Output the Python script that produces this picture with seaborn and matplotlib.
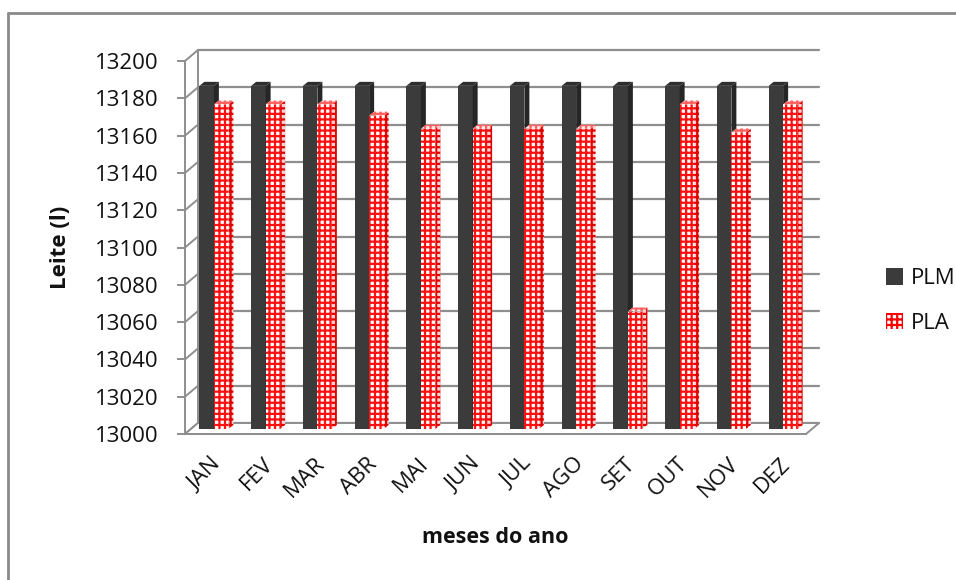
import numpy as np
import pandas as pd
import matplotlib
matplotlib.use("Agg")
import matplotlib.pyplot as plt
import seaborn as sns
from matplotlib.patches import Polygon, Rectangle
from matplotlib.lines import Line2D
from matplotlib.transforms import IdentityTransform, ScaledTranslation

# ---- data -------------------------------------------------------------
months = ["JAN", "FEV", "MAR", "ABR", "MAI", "JUN",
          "JUL", "AGO", "SET", "OUT", "NOV", "DEZ"]
plm = [13184, 13184, 13184, 13184, 13184, 13184,
       13184, 13184, 13184, 13184, 13184, 13184]
pla = [13174, 13174, 13174, 13168, 13161, 13161,
       13161, 13161, 13063, 13174, 13159, 13174]
series = ["PLM", "PLA"]
y_ticks = [13000, 13020, 13040, 13060, 13080, 13100,
           13120, 13140, 13160, 13180, 13200]

df = pd.DataFrame({
    "mes": months * 2,
    "serie": [series[0]] * len(months) + [series[1]] * len(months),
    "leite": plm + pla,
})

# ---- style ------------------------------------------------------------
sns.set_theme(style="white")
plt.rcParams["font.family"] = ["Open Sans", "DejaVu Sans"]
plt.rcParams["hatch.linewidth"] = 1.6

W, H, DPI = 956, 580, 100
fig = plt.figure(figsize=(W / DPI, H / DPI), dpi=DPI)
fig.patch.set_facecolor("white")

# front plane of the plot area (pixels)
x0, x1, yb, yt = 185, 806, 434, 61
ax = fig.add_axes([x0 / W, (H - yb) / H, (x1 - x0) / W, (yb - yt) / H])
ax.set_facecolor("none")

dark = "#3b3b3b"
grid_c = "#8e8e8e"
sns.barplot(data=df, x="mes", y="leite", hue="serie", hue_order=series,
            palette={"PLM": dark, "PLA": "white"}, width=0.56,
            saturation=1, ax=ax, legend=False, zorder=3)

ax.set_ylim(y_ticks[0], y_ticks[-1])
ax.set_xlim(-0.5, len(months) - 0.5)
ax.set_yticks(y_ticks)
ax.set_yticklabels([str(t) for t in y_ticks])

# depth of the pseudo-3D box (pixels)
DX, DY = 13, 11
px_per_cat = (x1 - x0) / len(months)
px_per_unit = (yb - yt) / (y_ticks[-1] - y_ticks[0])

# columns stand halfway into the box: shift them back a few pixels
col_trans = ax.transData + ScaledTranslation(3 / DPI, 5 / DPI,
                                             fig.dpi_scale_trans)

# side and top faces for every column
sdx = 5 / px_per_cat
sdy = 4 / px_per_unit
n = len(months)
base = y_ticks[0]
for i, p in enumerate(ax.patches[:2 * n]):
    is_pla = i >= n
    x, w = p.get_x(), p.get_width()
    top = p.get_y() + p.get_height()
    p.set_y(base)
    p.set_height(top - base)
    p.set_transform(col_trans)
    p.set_clip_on(False)
    p.set_linewidth(0)
    if is_pla:
        p.set_edgecolor("#ff1010")
        p.set_hatch("+++")
        p.set_zorder(5)
        side_kw = dict(facecolor="#ffd0d0", edgecolor="#e00000", hatch="+++",
                       linewidth=0, zorder=5)
        top_kw = dict(facecolor="#ffe8e8", edgecolor="#ff6060", hatch="+++",
                      linewidth=0, zorder=5)
    else:
        side_kw = dict(facecolor="#262626", edgecolor="none", zorder=3)
        top_kw = dict(facecolor="#2e2e2e", edgecolor="none", zorder=3)
    side = Polygon([(x + w, base), (x + w, top), (x + w + sdx, top + sdy),
                    (x + w + sdx, base + sdy)], closed=True,
                   transform=col_trans, clip_on=False, **side_kw)
    cap = Polygon([(x, top), (x + w, top), (x + w + sdx, top + sdy),
                   (x + sdx, top + sdy)], closed=True,
                  transform=col_trans, clip_on=False, **top_kw)
    ax.add_patch(side)
    ax.add_patch(cap)

# back wall grid, left wall and floor, offset behind the front plane
fig.canvas.draw()
to_disp = ax.get_yaxis_transform()
for t in y_ticks:
    fx, fy = to_disp.transform((0, t))
    rx, _ = to_disp.transform((1, t))
    fig.add_artist(Line2D([fx + DX, rx + DX], [fy + DY, fy + DY],
                          transform=IdentityTransform(), color=grid_c,
                          lw=1.6, zorder=0))
    fig.add_artist(Line2D([fx, fx + DX], [fy, fy + DY],
                          transform=IdentityTransform(), color=grid_c,
                          lw=1.4, zorder=0))
bx, by = to_disp.transform((0, y_ticks[0]))
ex, _ = to_disp.transform((1, y_ticks[0]))
_, ty = to_disp.transform((0, y_ticks[-1]))
fig.add_artist(Line2D([bx + DX, bx + DX], [by + DY, ty + DY],
                      transform=IdentityTransform(), color=grid_c, lw=1.4,
                      zorder=0))
fig.add_artist(Polygon([(bx, by), (ex, by), (ex + DX, by + DY),
                        (bx + DX, by + DY)], closed=True,
                       transform=IdentityTransform(), facecolor="white",
                       edgecolor=grid_c, lw=1.4, zorder=0))

# axes decoration
for s in ["top", "right"]:
    ax.spines[s].set_visible(False)
ax.spines["left"].set_color(grid_c)
ax.spines["left"].set_linewidth(1.4)
ax.spines["bottom"].set_color(grid_c)
ax.spines["bottom"].set_linewidth(1.4)
ax.tick_params(axis="y", length=6, width=1.4, color=grid_c, pad=13,
               labelsize=16, labelcolor="#111111", left=True)
ax.tick_params(axis="x", length=0, pad=14, labelsize=16, labelcolor="#111111")
for lab in ax.get_xticklabels():
    lab.set_rotation(45)
    lab.set_ha("right")
    lab.set_rotation_mode("anchor")

ax.set_ylabel("Leite (l)", fontsize=16, fontweight="bold", color="#111111")
ax.yaxis.set_label_coords(-0.184, 0.5)
ax.set_xlabel("meses do ano", fontsize=15.5, fontweight="bold", color="#111111")
ax.xaxis.set_label_coords(0.5, -0.25)

# legend
handles = [Rectangle((0, 0), 1, 1, facecolor=dark, edgecolor="none"),
           Rectangle((0, 0), 1, 1, facecolor="white", edgecolor="red",
                     hatch="+++", linewidth=0)]
fig.legend(handles, series, loc="center left",
           bbox_to_anchor=(866 / W, 1 - 301 / H), frameon=False,
           fontsize=16, handlelength=0.75, handleheight=0.75,
           handletextpad=0.35, labelspacing=1.05, labelcolor="#111111")

# chart area border (left and top edges)
fig.add_artist(Line2D([8 / W, 8 / W], [0, 1 - 13 / H], transform=fig.transFigure,
                      color="#8a8a8a", lw=2))
fig.add_artist(Line2D([8 / W, 1], [1 - 13 / H, 1 - 13 / H],
                      transform=fig.transFigure, color="#8a8a8a", lw=2))

fig.savefig("out.png", dpi=DPI, facecolor="white")
